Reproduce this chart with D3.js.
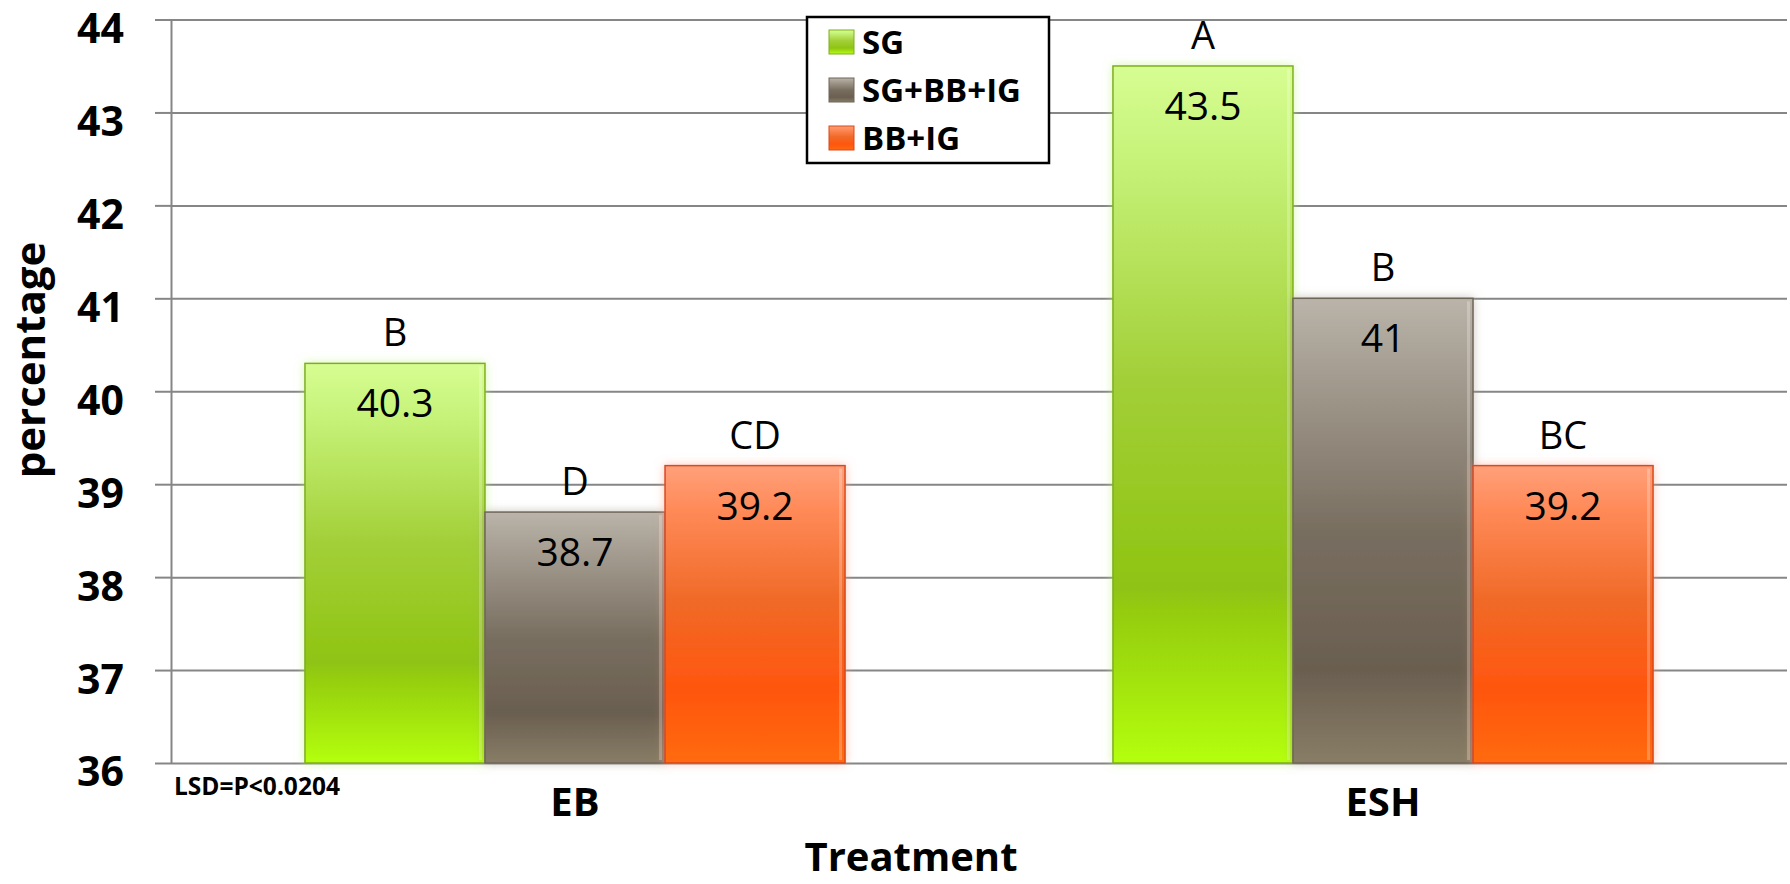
<!DOCTYPE html>
<html>
<head>
<meta charset="utf-8">
<script src="https://cdn.jsdelivr.net/npm/d3@7"></script>
<style>
  html, body { margin: 0; padding: 0; background: #fff; }
  svg { display: block; }
  text { font-family: "Open Sans", "DejaVu Sans", sans-serif; fill: #000; }
</style>
</head>
<body>
<svg id="chart" width="1790" height="884"></svg>
<script>
// ---- data ----
const categories = ["EB", "ESH"];
const seriesNames = ["SG", "SG+BB+IG", "BB+IG"];
const valuesSG = [40.3, 43.5];
const valuesSGBBIG = [38.7, 41];
const valuesBBIG = [39.2, 39.2];
const lettersSG = ["B", "A"];
const lettersSGBBIG = ["D", "B"];
const lettersBBIG = ["CD", "BC"];
const yTicks = [36, 37, 38, 39, 40, 41, 42, 43, 44];
const valueLabels = [["40.3", "43.5"], ["38.7", "41"], ["39.2", "39.2"]];

const seriesValues = [valuesSG, valuesSGBBIG, valuesBBIG];
const seriesLetters = [lettersSG, lettersSGBBIG, lettersBBIG];

// ---- layout ----
const mLeft = 171, mRight = 1787, mTop = 19.5, mBottom = 763;
const svg = d3.select("#chart");

const y = d3.scaleLinear().domain([36, 44]).range([mBottom, mTop]);
const x0 = d3.scaleBand().domain(categories).range([mLeft, mRight]).padding(0);
const x1 = d3.scaleBand().domain(seriesNames).range([0, x0.bandwidth()])
  .paddingInner(0).paddingOuter(0.744);

// ---- gradients & filters ----
const defs = svg.append("defs");
const gradStops = [
  [["0%", "#d6fd92"], ["12%", "#c8f47c"], ["45%", "#a2cf38"], ["75%", "#8fc412"], ["100%", "#b4ff10"]],
  [["0%", "#bab4aa"], ["15%", "#a69e92"], ["50%", "#786e60"], ["80%", "#6a5f50"], ["100%", "#887d66"]],
  [["0%", "#ffa07a"], ["15%", "#ff8a58"], ["45%", "#f06a28"], ["75%", "#ff560e"], ["100%", "#ff6a12"]]
];
const strokes = ["#7fae1c", "#6e6658", "#d9481a"];
const glows = ["#b8f070", "#a09888", "#ff9a80"];
gradStops.forEach((stops, i) => {
  const g = defs.append("linearGradient").attr("id", "grad" + i)
    .attr("x1", 0).attr("y1", 0).attr("x2", 0).attr("y2", 1);
  stops.forEach(s => g.append("stop").attr("offset", s[0]).attr("stop-color", s[1]));
  const f = defs.append("filter").attr("id", "glow" + i)
    .attr("x", "-20%").attr("y", "-20%").attr("width", "140%").attr("height", "140%");
  f.append("feGaussianBlur").attr("in", "SourceAlpha").attr("stdDeviation", 5).attr("result", "b");
  f.append("feFlood").attr("flood-color", glows[i]).attr("flood-opacity", 0.55).attr("result", "c");
  f.append("feComposite").attr("in", "c").attr("in2", "b").attr("operator", "in").attr("result", "s");
  const m = f.append("feMerge");
  m.append("feMergeNode").attr("in", "s");
  m.append("feMergeNode").attr("in", "SourceGraphic");
});

// ---- gridlines ----
svg.append("g")
  .attr("transform", `translate(${mLeft},0)`)
  .call(d3.axisLeft(y).tickValues(yTicks).tickSize(-(mRight - mLeft)).tickFormat(""))
  .call(g => g.select(".domain").remove())
  .call(g => g.selectAll("line").attr("stroke", "#868686").attr("stroke-width", 2));

// ---- y axis (ticks + labels) ----
svg.append("g")
  .attr("transform", `translate(${mLeft},0)`)
  .call(d3.axisLeft(y).tickValues(yTicks).tickSize(16).tickSizeOuter(0).tickPadding(31).tickFormat(d3.format("d")))
  .call(g => g.select(".domain").attr("stroke", "#868686").attr("stroke-width", 2))
  .call(g => g.selectAll("line").attr("stroke", "#868686").attr("stroke-width", 2))
  .call(g => g.selectAll("text")
    .attr("font-size", 41).attr("font-weight", "bold")
    .attr("font-family", "Lato, 'Open Sans', sans-serif").attr("fill", "#000")
    .attr("dy", "0.56em"));

// ---- bars ----
const barData = [];
categories.forEach((c, ci) => {
  seriesNames.forEach((s, si) => {
    barData.push({ cat: c, ser: s, si: si, v: seriesValues[si][ci],
      letter: seriesLetters[si][ci], label: valueLabels[si][ci] });
  });
});

const bars = svg.append("g").selectAll("g.bar").data(barData).join("g").attr("class", "bar");
bars.append("rect")
  .attr("x", d => x0(d.cat) + x1(d.ser))
  .attr("y", d => y(d.v))
  .attr("width", x1.bandwidth())
  .attr("height", d => y(36) - y(d.v))
  .attr("fill", d => `url(#grad${d.si})`)
  .attr("stroke", d => strokes[d.si])
  .attr("stroke-width", 1.5)
  .attr("filter", d => `url(#glow${d.si})`);
// right-side bevel highlight
bars.append("rect")
  .attr("x", d => x0(d.cat) + x1(d.ser) + x1.bandwidth() - 6)
  .attr("y", d => y(d.v) + 3)
  .attr("width", 3)
  .attr("height", d => y(36) - y(d.v) - 6)
  .attr("fill", "#ffffff").attr("opacity", 0.25);

// value labels
bars.append("text")
  .attr("x", d => x0(d.cat) + x1(d.ser) + x1.bandwidth() / 2)
  .attr("y", d => y(d.v) + 54)
  .attr("text-anchor", "middle")
  .attr("font-size", 39)
  .text(d => d.label);

// letter labels
bars.append("text")
  .attr("x", d => x0(d.cat) + x1(d.ser) + x1.bandwidth() / 2)
  .attr("y", d => y(d.v) - 17)
  .attr("text-anchor", "middle")
  .attr("font-size", 38)
  .text(d => d.letter);

// ---- x category labels ----
svg.append("g").selectAll("text").data(categories).join("text")
  .attr("x", d => x0(d) + x0.bandwidth() / 2)
  .attr("y", 816)
  .attr("text-anchor", "middle")
  .attr("font-size", 40).attr("font-weight", "bold")
  .text(d => d);

// axis titles
svg.append("text")
  .attr("x", (mLeft + mRight) / 2 - 68).attr("y", 871)
  .attr("text-anchor", "middle")
  .attr("font-size", 40).attr("font-weight", "bold")
  .text("Treatment");

svg.append("text")
  .attr("transform", "translate(45,360) rotate(-90)")
  .attr("text-anchor", "middle")
  .attr("font-size", 42).attr("font-weight", "bold")
  .text("percentage");

svg.append("text")
  .attr("x", 174).attr("y", 795)
  .attr("font-size", 24.5).attr("font-weight", "bold")
  .text("LSD=P<0.0204");

// ---- legend ----
const lg = svg.append("g");
lg.append("rect").attr("x", 807).attr("y", 17).attr("width", 242).attr("height", 146)
  .attr("fill", "#fff").attr("stroke", "#000").attr("stroke-width", 2.5);
const li = lg.selectAll("g").data(seriesNames).join("g")
  .attr("transform", (d, i) => `translate(829,${30 + i * 48})`);
li.append("rect").attr("width", 25).attr("height", 24)
  .attr("fill", (d, i) => `url(#grad${i})`)
  .attr("stroke", (d, i) => strokes[i]).attr("stroke-width", 1);
li.append("text").attr("x", 33).attr("y", 24)
  .attr("font-size", 33).attr("font-weight", "bold")
  .text(d => d);
</script>
</body>
</html>
